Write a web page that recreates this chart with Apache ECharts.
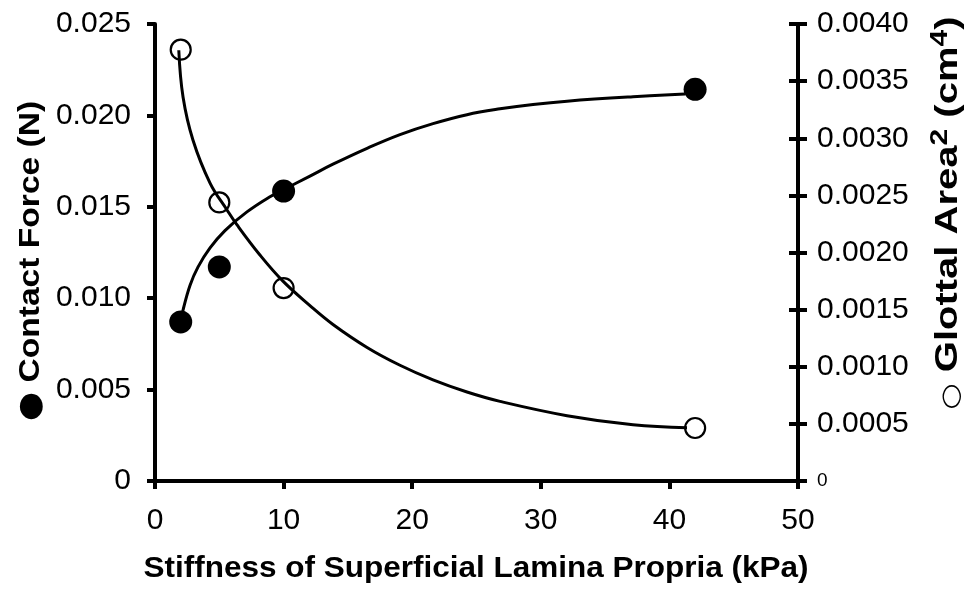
<!DOCTYPE html>
<html>
<head>
<meta charset="utf-8">
<script src="https://cdn.jsdelivr.net/npm/echarts@6/dist/echarts.min.js"></script>
<style>
html,body{margin:0;padding:0;background:#fff;}
#chart{width:969px;height:590px;}
</style>
</head>
<body>
<div id="chart"></div>
<script>
// Measured data points
var stiffness = [2, 5, 10, 42];
var contactForce = [0.0087, 0.01171, 0.01586, 0.02143];
var glottalArea2 = [0.003775, 0.002438, 0.001689, 0.000464];

// Fitted curves
var forceCurveX = [2.0, 2.18, 2.72, 3.34, 4.28, 5.44, 7.15, 8.94, 9.95, 12.05, 13.84, 16.49, 19.05, 21.62, 24.26, 26.83, 29.4, 32.04, 37.17, 41.21];
var forceCurveY = [0.0087, 0.00935, 0.01070, 0.01170, 0.01275, 0.01370, 0.01472, 0.01555, 0.01592, 0.01668, 0.01733, 0.01820, 0.01895, 0.01955, 0.02004, 0.02036, 0.02060, 0.02078, 0.02102, 0.02117];
var areaCurveX = [1.85, 2.18, 2.95, 4.28, 5.60, 6.38, 8.16, 9.95, 12.05, 13.84, 16.49, 19.05, 21.62, 24.26, 26.83, 32.04, 37.17, 41.37];
var areaCurveY = [0.00377, 0.003361, 0.002985, 0.002608, 0.002372, 0.002241, 0.001978, 0.001749, 0.001535, 0.001370, 0.001169, 0.001013, 0.000885, 0.000779, 0.000697, 0.000572, 0.000492, 0.000466];

var xTicks = {min: 0, max: 50, interval: 10};
var leftTicks = {min: 0, max: 0.025, interval: 0.005};
var rightTicks = {min: 0, max: 0.004, interval: 0.0005};

var FONT = "'Liberation Sans', Arial, Helvetica, sans-serif";

function zip(a, b) { return a.map(function (v, i) { return [v, b[i]]; }); }

var chart = echarts.init(document.getElementById('chart'), null, {renderer: 'canvas'});

var axisLine = {show: true, lineStyle: {color: '#000', width: 4}};
var tickStyle = {color: '#000', width: 4};

var option = {
  animation: false,
  backgroundColor: '#fff',
  grid: {left: 155, right: 171, top: 24, bottom: 109, containLabel: false},
  xAxis: {
    type: 'value', min: xTicks.min, max: xTicks.max, interval: xTicks.interval,
    axisLine: axisLine,
    axisTick: {show: true, length: 8, lineStyle: tickStyle},
    splitLine: {show: false},
    axisLabel: {color: '#000', fontSize: 30, fontFamily: FONT, margin: 25}
  },
  yAxis: [
    {
      type: 'value', position: 'left', min: leftTicks.min, max: leftTicks.max, interval: leftTicks.interval,
      axisLine: axisLine,
      axisTick: {show: true, length: 8, lineStyle: tickStyle},
      splitLine: {show: false},
      axisLabel: {color: '#000', fontSize: 30, fontFamily: FONT, margin: 24,
        formatter: function (v) { return v === 0 ? '0' : v.toFixed(3); }}
    },
    {
      type: 'value', position: 'right', min: rightTicks.min, max: rightTicks.max, interval: rightTicks.interval,
      axisLine: axisLine,
      axisTick: {show: true, length: 9, lineStyle: tickStyle},
      splitLine: {show: false},
      axisLabel: {color: '#000', fontSize: 30, fontFamily: FONT, margin: 19,
        formatter: function (v) { return v === 0 ? '{z|0}' : v.toFixed(4); },
        rich: {z: {fontSize: 19, fontFamily: FONT, color: '#000'}}}
    },
    {
      type: 'value', position: 'right', min: rightTicks.min, max: rightTicks.max, interval: rightTicks.interval,
      axisLine: {show: false},
      axisTick: {show: true, inside: true, length: 9, lineStyle: tickStyle},
      splitLine: {show: false},
      axisLabel: {show: false}
    }
  ],
  graphic: [
    {
      type: 'text', x: 31, y: 261, rotation: Math.PI / 2, scaleX: 1.12, scaleY: 1,
      style: {
        text: '{c|●} {b|Contact Force (N)}',
        align: 'center', verticalAlign: 'middle', textAlign: 'center', textVerticalAlign: 'middle',
        fill: '#000', fontSize: 30, fontWeight: 'bold', fontFamily: FONT,
        rich: {
          c: {fontSize: 30, fontFamily: "'DejaVu Sans', sans-serif", fill: '#000', color: '#000'},
          b: {fontSize: 30, fontWeight: 'bold', fontFamily: FONT, fill: '#000', color: '#000'}
        }
      }
    },
    {
      type: 'text', x: 946, y: 213, rotation: Math.PI / 2, scaleX: 1.25, scaleY: 1,
      style: {
        text: '{c|○} {b|Glottal Area}{s|2}{b| (cm}{s|4}{b|)}',
        align: 'center', verticalAlign: 'middle', textAlign: 'center', textVerticalAlign: 'middle',
        fill: '#000', fontSize: 32, fontWeight: 'bold', fontFamily: FONT,
        rich: {
          c: {fontSize: 24, fontFamily: "'DejaVu Sans', sans-serif", lineHeight: 36, verticalAlign: 'bottom', fill: '#000', color: '#000'},
          b: {fontSize: 32, fontWeight: 'bold', fontFamily: FONT, lineHeight: 36, verticalAlign: 'bottom', fill: '#000', color: '#000'},
          s: {fontSize: 24, fontWeight: 'bold', fontFamily: FONT, lineHeight: 24, verticalAlign: 'top', fill: '#000', color: '#000'}
        }
      }
    },
    {
      type: 'text', x: 476, y: 569, scaleX: 1.05, scaleY: 1,
      style: {
        text: 'Stiffness of Superficial Lamina Propria (kPa)',
        align: 'center', verticalAlign: 'middle', textAlign: 'center', textVerticalAlign: 'middle',
        fill: '#000', fontSize: 30, fontWeight: 'bold', fontFamily: FONT
      }
    }
  ],
  series: [
    {
      type: 'line', name: 'force fit', xAxisIndex: 0, yAxisIndex: 0,
      data: zip(forceCurveX, forceCurveY), symbol: 'none', smooth: 0.4,
      lineStyle: {color: '#000', width: 3}, z: 2
    },
    {
      type: 'line', name: 'area fit', xAxisIndex: 0, yAxisIndex: 1,
      data: zip(areaCurveX, areaCurveY), symbol: 'none', smooth: 0.4,
      lineStyle: {color: '#000', width: 3}, z: 2
    },
    {
      type: 'scatter', name: 'Contact Force', xAxisIndex: 0, yAxisIndex: 0,
      data: zip(stiffness, contactForce), symbol: 'circle', symbolSize: 23,
      itemStyle: {color: '#000', opacity: 1}, z: 3
    },
    {
      type: 'scatter', name: 'Glottal Area2', xAxisIndex: 0, yAxisIndex: 1,
      data: zip(stiffness, glottalArea2), symbol: 'circle', symbolSize: 20,
      itemStyle: {color: 'rgba(255,255,255,0)', borderColor: '#000', borderWidth: 2.2, opacity: 1}, z: 3
    }
  ]
};
chart.setOption(option);
</script>
</body>
</html>
